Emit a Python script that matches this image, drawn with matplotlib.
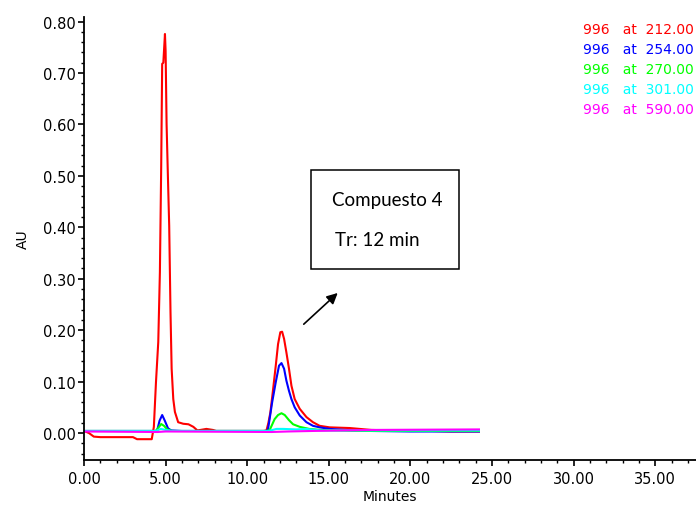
import matplotlib
matplotlib.use("Agg")
import matplotlib.pyplot as plt
from matplotlib.ticker import MultipleLocator, FormatStrFormatter
from matplotlib.patches import Rectangle

# chromatogram traces (time in minutes, absorbance in AU)
red_t = [0, 0.3, 0.6, 1.0, 2.0, 3.0, 3.25, 4.15, 4.28, 4.41, 4.55, 4.65, 4.73, 4.79,
         4.86, 4.96, 5.0, 5.06, 5.14, 5.22, 5.3, 5.37, 5.47, 5.57, 5.77, 6.08, 6.4,
         6.7, 6.95, 7.5, 7.9, 8.1, 9.0, 10.0, 11.0, 11.18, 11.3, 11.42, 11.59, 11.75,
         11.89, 12.03, 12.14, 12.26, 12.4, 12.56, 12.71, 12.91, 13.22, 13.63, 14.03,
         14.44, 15.05, 16.28, 17.6, 19.0, 21.35, 22.5, 24.2]
red_y = [0.004, 0.0, -0.007, -0.008, -0.008, -0.008, -0.012, -0.012, 0.012, 0.099,
         0.177, 0.313, 0.519, 0.718, 0.72, 0.776, 0.743, 0.601, 0.50, 0.403, 0.235,
         0.125, 0.066, 0.041, 0.021, 0.018, 0.017, 0.012, 0.005, 0.008, 0.006, 0.004,
         0.004, 0.004, 0.004, 0.005, 0.02, 0.04, 0.086, 0.131, 0.173, 0.196, 0.197,
         0.183, 0.157, 0.125, 0.092, 0.066, 0.047, 0.031, 0.021, 0.014, 0.011, 0.0097,
         0.006, 0.005, 0.004, 0.003, 0.003]

blue_t = [0, 4.4, 4.49, 4.63, 4.79, 4.95, 5.15, 5.35, 6, 8, 10, 11.2, 11.28, 11.53,
          11.75, 11.95, 12.1, 12.26, 12.4, 12.56, 12.71, 12.91, 13.22, 13.63, 14.03,
          14.44, 15.05, 16, 17.6, 20, 24.2]
blue_y = [0.004, 0.004, 0.006, 0.024, 0.035, 0.024, 0.009, 0.005, 0.004, 0.004, 0.004,
          0.004, 0.008, 0.06, 0.099, 0.131, 0.136, 0.125, 0.102, 0.082, 0.066, 0.05,
          0.034, 0.021, 0.014, 0.011, 0.008, 0.006, 0.004, 0.003, 0.003]

green_t = [0, 4.4, 4.55, 4.73, 4.9, 5.1, 5.4, 8, 11.2, 11.38, 11.68, 11.89, 12.1, 12.3,
           12.56, 12.81, 13.22, 13.8, 14.5, 16.7, 20, 24.2]
green_y = [0.004, 0.004, 0.01, 0.0175, 0.014, 0.007, 0.004, 0.004, 0.004, 0.006, 0.027,
           0.035, 0.0385, 0.035, 0.025, 0.017, 0.012, 0.008, 0.006, 0.004, 0.004, 0.004]

cyan_t = [0, 4.4, 4.7, 5.0, 5.4, 11.3, 11.8, 12.2, 13.0, 13.6, 14.5, 24.2]
cyan_y = [0.004, 0.004, 0.008, 0.006, 0.004, 0.004, 0.008, 0.008, 0.007, 0.008, 0.005, 0.005]

magenta_t = [0, 4.5, 5.0, 11.5, 12.5, 14.0, 17.6, 24.2]
magenta_y = [0.003, 0.002, 0.003, 0.002, 0.003, 0.004, 0.006, 0.007]

labels = ["996   at  212.00", "996   at  254.00", "996   at  270.00",
          "996   at  301.00", "996   at  590.00"]
colors = ["#ff0000", "#0000ff", "#00ff00", "#00ffff", "#ff00ff"]

fig = plt.figure(figsize=(6.96, 5.06), dpi=100)
ax = fig.add_axes([0.1207, 0.0889, 0.8793, 0.8755])

traces = [(red_t, red_y), (blue_t, blue_y), (green_t, green_y),
          (cyan_t, cyan_y), (magenta_t, magenta_y)]
for (t, y), c in zip(traces, colors):
    ax.plot(t, y, color=c, lw=1.5)

ax.set_xlim(0, 37.5)
ax.set_ylim(-0.0525, 0.809)
ax.spines["top"].set_visible(False)
ax.spines["right"].set_visible(False)
ax.spines["left"].set_linewidth(1.3)
ax.spines["bottom"].set_linewidth(1.3)

ax.xaxis.set_major_locator(MultipleLocator(5))
ax.xaxis.set_minor_locator(MultipleLocator(1))
ax.yaxis.set_major_locator(MultipleLocator(0.1))
ax.yaxis.set_minor_locator(MultipleLocator(0.02))
ax.xaxis.set_major_formatter(FormatStrFormatter("%.2f"))
ax.yaxis.set_major_formatter(FormatStrFormatter("%.2f"))
ax.tick_params(which="major", length=4, width=1.2, labelsize=10.5, pad=2)
ax.tick_params(which="minor", length=2.5, width=1)
ax.tick_params(axis="x", pad=4)

ax.set_xlabel("Minutes", fontsize=10, labelpad=2)
ax.set_ylabel("AU", fontsize=10, labelpad=9)

# wavelength list, top right
for i, (lab, c) in enumerate(zip(labels, colors)):
    fig.text(0.997, 1 - (30 + 20 * i) / 506, lab, color=c, fontsize=10,
             ha="right", va="center")

# annotation box for compound 4
ax.add_patch(Rectangle((13.9, 0.319), 9.05, 0.193, fill=False,
                       edgecolor="black", lw=1.1, zorder=5))
ax.text(15.18, 0.455, "Compuesto 4", fontsize=13.5, family="Lato", va="center")
ax.text(15.36, 0.377, "Tr: 12 min", fontsize=13.5, family="Lato", va="center")
ax.annotate("", xy=(15.67, 0.276), xytext=(13.34, 0.208),
            arrowprops=dict(arrowstyle="-|>", color="black", lw=1.2,
                            mutation_scale=16))

fig.savefig("out.png", dpi=100)
